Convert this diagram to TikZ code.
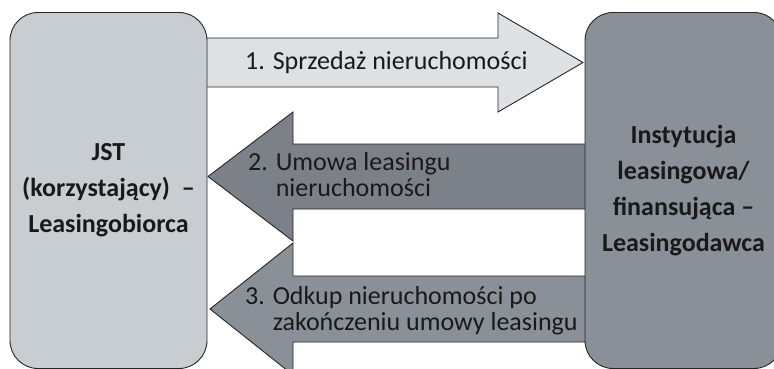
\documentclass[tikz,border=0pt]{standalone}
\usepackage{fontspec}
\setmainfont{Carlito}
\usepackage{xcolor}
\definecolor{jstgray}{RGB}{200,205,209}
\definecolor{salegray}{RGB}{221,225,228}
\definecolor{leasegray}{RGB}{124,129,137}
\definecolor{buygray}{RGB}{138,144,152}
\tikzset{
    party-box/.style = {draw=black!85, line width=0.9pt, rectangle, rounded corners=28pt, minimum width=197pt, minimum height=356pt, align=center, text=black!90, font=\bfseries\fontsize{26}{36}\selectfont},
    flow-arrow/.style = {draw=black!85, line width=0.9pt, line join=miter},
    flow-label/.style = {anchor=base west, align=left, inner sep=0pt, text=black!90, font=\fontsize{26}{26}\selectfont},
}

\begin{document}
\begin{tikzpicture}[x=1pt,y=-1pt]
\useasboundingbox (0,0) rectangle (774,369);
% block arrows first, the two boxes go on top
\draw[flow-arrow, fill=salegray] (200,38) -- (498,38) -- (498,13) -- (583,62.5) -- (498,112) -- (498,87) -- (200,87) -- cycle;
\draw[flow-arrow, fill=leasegray] (600,144) -- (293,144) -- (293,112) -- (208,176.5) -- (293,241) -- (293,209) -- (600,209) -- cycle;
\draw[flow-arrow, fill=buygray] (600,276) -- (293,276) -- (293,243) -- (210,309) -- (293,375) -- (293,342) -- (600,342) -- cycle;
\node[party-box, fill=jstgray] (jst) at (108.5,190.5) {JST\\(korzystający) \ –\\Leasingobiorca};
\node[party-box, fill=buygray] (lessor) at (683.5,190.5) {Instytucja\\leasingowa/\\finansująca –\\Leasingodawca};
\node[flow-label] (sale) at (245,70) {1. Sprzedaż nieruchomości};
\node[flow-label] (lease) at (248,196) {2. Umowa leasingu\\\phantom{2. }nieruchomości};
\node[flow-label] (buyback) at (245,330) {3. Odkup nieruchomości po\\\phantom{3. }zakończeniu umowy leasingu};
\end{tikzpicture}
\end{document}
